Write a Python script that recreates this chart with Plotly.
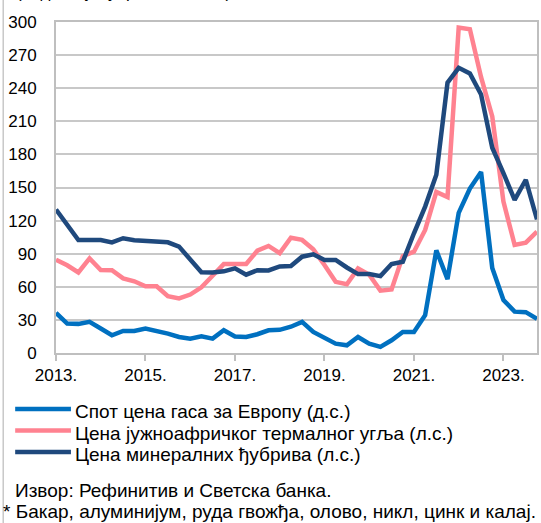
import plotly.graph_objects as go

# quarterly observations, Q1 2013 - Q4 2023
quarters = [f"{y}Q{q}" for y in range(2013, 2024) for q in range(1, 5)]
year_ticks = quarters[::8]
year_labels = ["2013.", "2015.", "2017.", "2019.", "2021.", "2023."]

gas_europe = [
    36.4, 26.7, 26.4, 28.2, 22.2, 16.1, 20.0, 20.0, 22.2, 20.0, 17.6,
    14.5, 13.0, 15.1, 13.0, 20.6, 15.0, 14.5, 17.0, 20.6, 21.0, 23.8,
    28.2, 19.1, 13.5, 8.5, 7.0, 14.5, 8.5, 5.5, 11.5, 19.0, 19.0,
    34.3, 93.0, 67.0, 127.0, 149.0, 164.0, 77.0, 48.0, 37.5, 37.0, 31.0,
]
coal_sa = [
    84.5, 79.5, 73.0, 85.8, 75.2, 75.0, 67.6, 65.0, 60.5, 60.5, 51.5,
    49.5, 53.0, 59.5, 70.0, 80.6, 80.6, 80.6, 92.7, 97.0, 90.5, 104.5,
    102.5, 94.0, 79.7, 64.5, 62.3, 76.7, 71.0, 56.5, 57.6, 87.8, 91.8,
    111.5, 146.0, 141.3, 295.0, 293.5, 250.0, 214.5, 137.3, 98.0, 100.0, 110.0,
]
fertilizers = [
    130.0, 116.0, 102.4, 102.4, 102.4, 100.3, 104.0, 102.2, 101.8, 100.6, 100.3,
    96.4, 84.3, 73.2, 73.0, 74.0, 76.7, 71.0, 75.0, 74.8, 78.5, 78.8,
    87.3, 89.5, 84.3, 84.3, 77.5, 71.5, 71.5, 69.7, 80.6, 82.7, 108.5,
    132.7, 161.5, 245.0, 258.5, 253.3, 234.3, 186.0, 163.0, 138.8, 157.0, 121.0,
]

series_names = [
    "Спот цена гаса за Европу (д.с.)",
    "Цена јужноафричког термалног угља (л.с.)",
    "Цена минералних ђубрива (л.с.)",
]
colors = ["#0070C0", "#FF8290", "#1F497D"]

W, H = 541, 523
L, R, T, B = 56, 539, 22, 353
FONT = "Liberation Sans, Arial, sans-serif"


def px(x):
    return (x - L) / (R - L)


def py(y):
    return (B - y) / (B - T)


fig = go.Figure()
for name, vals, col in zip(series_names, [gas_europe, coal_sa, fertilizers], colors):
    fig.add_trace(go.Scatter(
        x=quarters, y=vals, mode="lines", name=name,
        line=dict(color=col, width=4.5), showlegend=False,
    ))

shapes = [dict(type="line", xref="paper", yref="paper",
               x0=px(3), x1=px(3), y0=py(H), y1=py(0),
               line=dict(color="#C8C8C8", width=1.5))]
annotations = []
for k, (name, col) in enumerate(zip(series_names, colors)):
    yy = 409 + k * 21.5
    shapes.append(dict(type="line", xref="paper", yref="paper",
                       x0=px(15), x1=px(71), y0=py(yy), y1=py(yy),
                       line=dict(color=col, width=4.5)))
    annotations.append(dict(xref="paper", yref="paper", x=px(73), y=py(yy + 2.5),
                            xanchor="left", yanchor="middle", showarrow=False,
                            text=name, font=dict(size=19, color="black", family=FONT)))

annotations += [
    dict(xref="paper", yref="paper", x=px(13), y=py(490), xanchor="left",
         yanchor="middle", showarrow=False, text="Извор: Рефинитив и Светска банка.",
         font=dict(size=19, color="black", family=FONT)),
    dict(xref="paper", yref="paper", x=px(1), y=py(511), xanchor="left",
         yanchor="middle", showarrow=False,
         text="* Бакар, алуминијум, руда гвожђа, олово, никл, цинк и калај.",
         font=dict(size=19, color="black", family=FONT)),
    dict(xref="paper", yref="paper", x=px(14), y=py(-8), xanchor="left",
         yanchor="middle", showarrow=False, text="(индекс, јануар 2013 = 100)",
         font=dict(size=17, color="black", family=FONT)),
]

fig.update_layout(
    width=W, height=H,
    margin=dict(l=L, r=W - R, t=T, b=H - B),
    paper_bgcolor="white", plot_bgcolor="white",
    font=dict(family=FONT, size=17, color="black"),
    shapes=shapes, annotations=annotations,
    xaxis=dict(
        type="category", range=[0, len(quarters) - 1],
        tickmode="array", tickvals=year_ticks, ticktext=year_labels,
        ticks="outside", ticklen=6, tickcolor="#BFBFBF", tickwidth=2,
        showgrid=False, showline=True, linecolor="#BFBFBF", linewidth=2,
        mirror=True, tickfont=dict(size=17),
    ),
    yaxis=dict(
        range=[0, 300], tickmode="array", tickvals=list(range(0, 301, 30)),
        showgrid=True, gridcolor="#C8C8C8", gridwidth=2,
        showline=True, linecolor="#BFBFBF", linewidth=2, mirror=True,
        zeroline=False, ticks="", ticklabelstandoff=14, tickfont=dict(size=17),
    ),
)

# drop the browser's default body margin so the figure sits at the page corner
fig.write_html("out.html", config={"displayModeBar": False},
               post_script="document.body.style.margin='0';")
